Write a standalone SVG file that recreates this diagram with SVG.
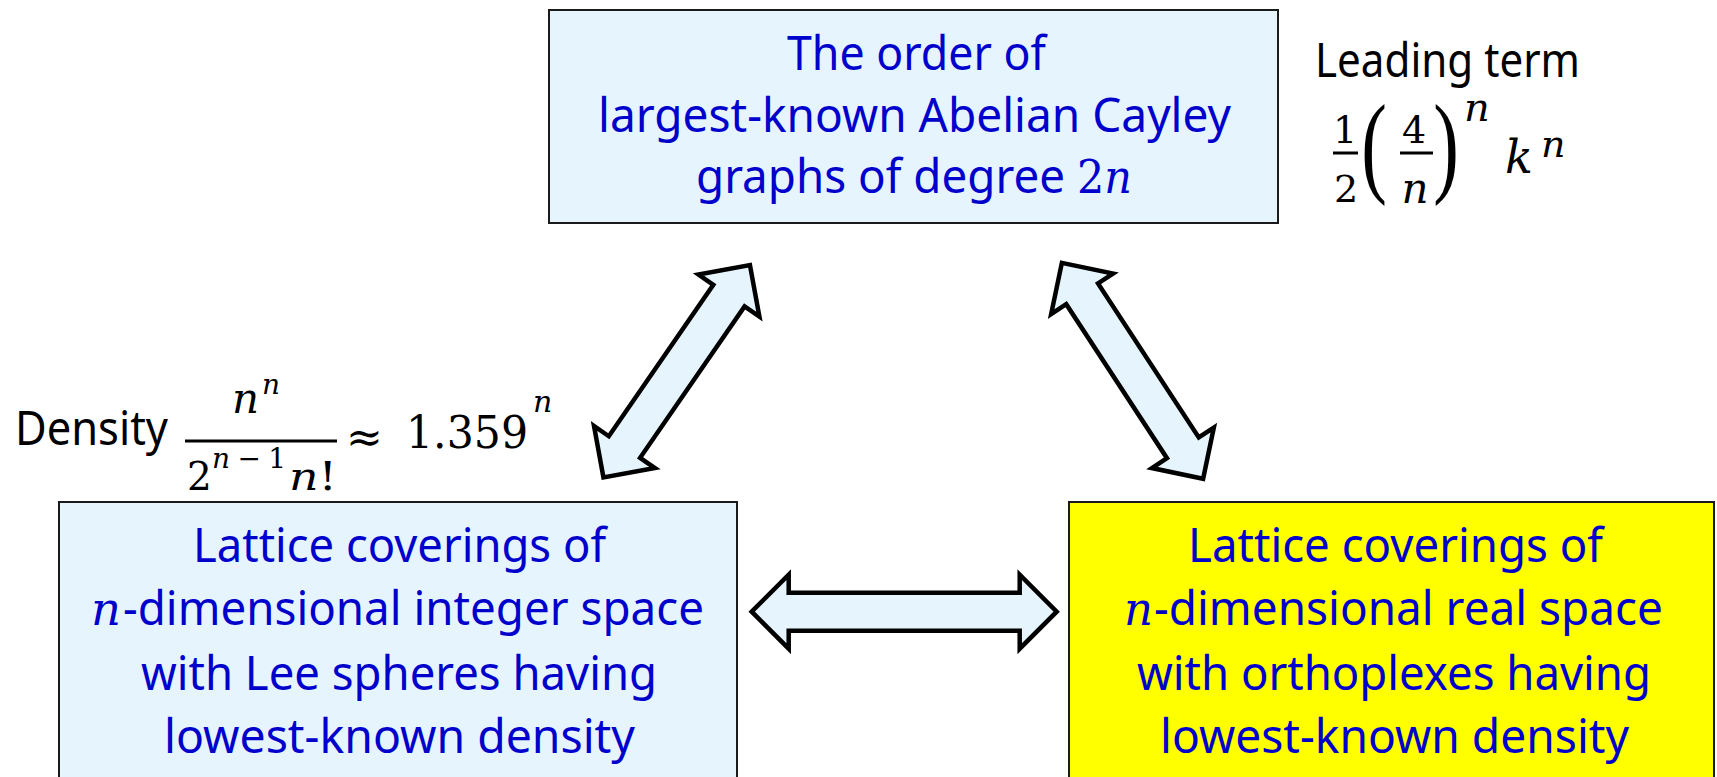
<svg xmlns="http://www.w3.org/2000/svg" width="1717" height="777" viewBox="0 0 1717 777">
<defs>
<style>
.box{stroke:#1a1a1a;stroke-width:2}
.blue{fill:#E6F4FD}
.yellow{fill:#FFFF00}
.lbl{font-family:"Noto Sans","Open Sans","Liberation Sans",sans-serif;font-size:47px;fill:#0000CC}
.blk{font-family:"Noto Sans","Open Sans","Liberation Sans",sans-serif;font-size:47px;fill:#000}
.m{font-family:"DejaVu Serif","Liberation Serif",serif;font-style:normal}
.mi{font-family:"DejaVu Serif","Liberation Serif",serif;font-style:italic}
.mb{fill:#0000CC}
.p{font-family:"Liberation Serif","DejaVu Serif",serif}
.arrow{fill:#E6F4FD;stroke:#000;stroke-width:4.5;stroke-linejoin:miter}
.bar{stroke:#000;stroke-width:3}
</style>
<path id="diag" d="M -129,0 L -92,-37 L -92,-19 L 92,-19 L 92,-37 L 129,0 L 92,37 L 92,19 L -92,19 L -92,37 Z"/>
<path id="horiz" d="M -152.5,0 L -115.5,-37 L -115.5,-19 L 115.5,-19 L 115.5,-37 L 152.5,0 L 115.5,37 L 115.5,19 L -115.5,19 L -115.5,37 Z"/>
</defs>
<rect width="1717" height="777" fill="#fff"/>

<g id="connectors">
<use href="#diag" class="arrow" transform="translate(676.7,371.3) rotate(-55.4)"/>
<use href="#diag" class="arrow" transform="translate(1132.5,370.8) rotate(56.8)"/>
<use href="#horiz" class="arrow" transform="translate(904.2,611.7)"/>
</g>

<g id="node-top">
<rect class="box blue" x="549" y="10" width="729" height="213"/>
<text class="lbl" x="787" y="70" textLength="259" lengthAdjust="spacingAndGlyphs">The order of</text>
<text class="lbl" x="598" y="132" textLength="633" lengthAdjust="spacingAndGlyphs">largest-known Abelian Cayley</text>
<text class="lbl" x="696" y="193" textLength="369" lengthAdjust="spacingAndGlyphs">graphs of degree</text>
<text class="m mb" x="1077" y="193" font-size="46" textLength="55" lengthAdjust="spacingAndGlyphs">2<tspan class="mi">n</tspan></text>
</g>

<g id="node-left">
<rect class="box blue" x="59" y="502" width="678" height="300"/>
<text class="lbl" x="193" y="562" textLength="413" lengthAdjust="spacingAndGlyphs">Lattice coverings of</text>
<text class="mi mb" x="91" y="625" font-size="46" textLength="30" lengthAdjust="spacingAndGlyphs">n</text>
<text class="lbl" x="123" y="625" textLength="581" lengthAdjust="spacingAndGlyphs">-dimensional integer space</text>
<text class="lbl" x="141" y="690" textLength="516" lengthAdjust="spacingAndGlyphs">with Lee spheres having</text>
<text class="lbl" x="164" y="753" textLength="471" lengthAdjust="spacingAndGlyphs">lowest-known density</text>
</g>

<g id="node-right">
<rect class="box yellow" x="1069" y="502" width="645" height="300"/>
<text class="lbl" x="1188" y="562" textLength="415" lengthAdjust="spacingAndGlyphs">Lattice coverings of</text>
<text class="mi mb" x="1124" y="625" font-size="46" textLength="29" lengthAdjust="spacingAndGlyphs">n</text>
<text class="lbl" x="1154" y="625" textLength="509" lengthAdjust="spacingAndGlyphs">-dimensional real space</text>
<text class="lbl" x="1137" y="690" textLength="514" lengthAdjust="spacingAndGlyphs">with orthoplexes having</text>
<text class="lbl" x="1160" y="753" textLength="469" lengthAdjust="spacingAndGlyphs">lowest-known density</text>
</g>

<g id="leading-term">
<text class="blk" x="1315" y="77" textLength="265" lengthAdjust="spacingAndGlyphs">Leading term</text>
<text class="m" x="1345" y="143" font-size="38" text-anchor="middle">1</text>
<line class="bar" x1="1333" y1="153" x2="1358" y2="153"/>
<text class="m" x="1346" y="202" font-size="38" text-anchor="middle">2</text>
<text class="p" font-size="70" text-anchor="middle" transform="translate(1374,182) scale(1.1,1.6)">(</text>
<text class="m" x="1414" y="143" font-size="38" text-anchor="middle">4</text>
<line class="bar" x1="1400" y1="153" x2="1433" y2="153"/>
<text class="mi" x="1415" y="203" font-size="42" text-anchor="middle">n</text>
<text class="p" font-size="70" text-anchor="middle" transform="translate(1446,182) scale(1.1,1.6)">)</text>
<text class="mi" x="1464" y="121" font-size="40">n</text>
<text class="mi" x="1505" y="173" font-size="46">k</text>
<text class="mi" x="1541" y="157" font-size="38">n</text>
</g>

<g id="density">
<text class="blk" x="15" y="445" textLength="153" lengthAdjust="spacingAndGlyphs">Density</text>
<text class="mi" x="232" y="413" font-size="42">n</text>
<text class="mi" x="262" y="394" font-size="28">n</text>
<line class="bar" x1="185" y1="441" x2="337" y2="441"/>
<text class="m" x="187" y="490" font-size="39">2</text>
<text x="212" y="468" font-size="28" textLength="74" lengthAdjust="spacing"><tspan class="mi">n</tspan><tspan class="m">−1</tspan></text>
<text x="289" y="490" font-size="39" textLength="48" lengthAdjust="spacingAndGlyphs"><tspan class="mi">n</tspan><tspan class="m">!</tspan></text>
<text class="m" x="346" y="452" font-size="44">≈</text>
<text class="m" x="406" y="448" font-size="44" textLength="122" lengthAdjust="spacingAndGlyphs">1.359</text>
<text class="mi" x="533" y="412" font-size="30">n</text>
</g>
</svg>
